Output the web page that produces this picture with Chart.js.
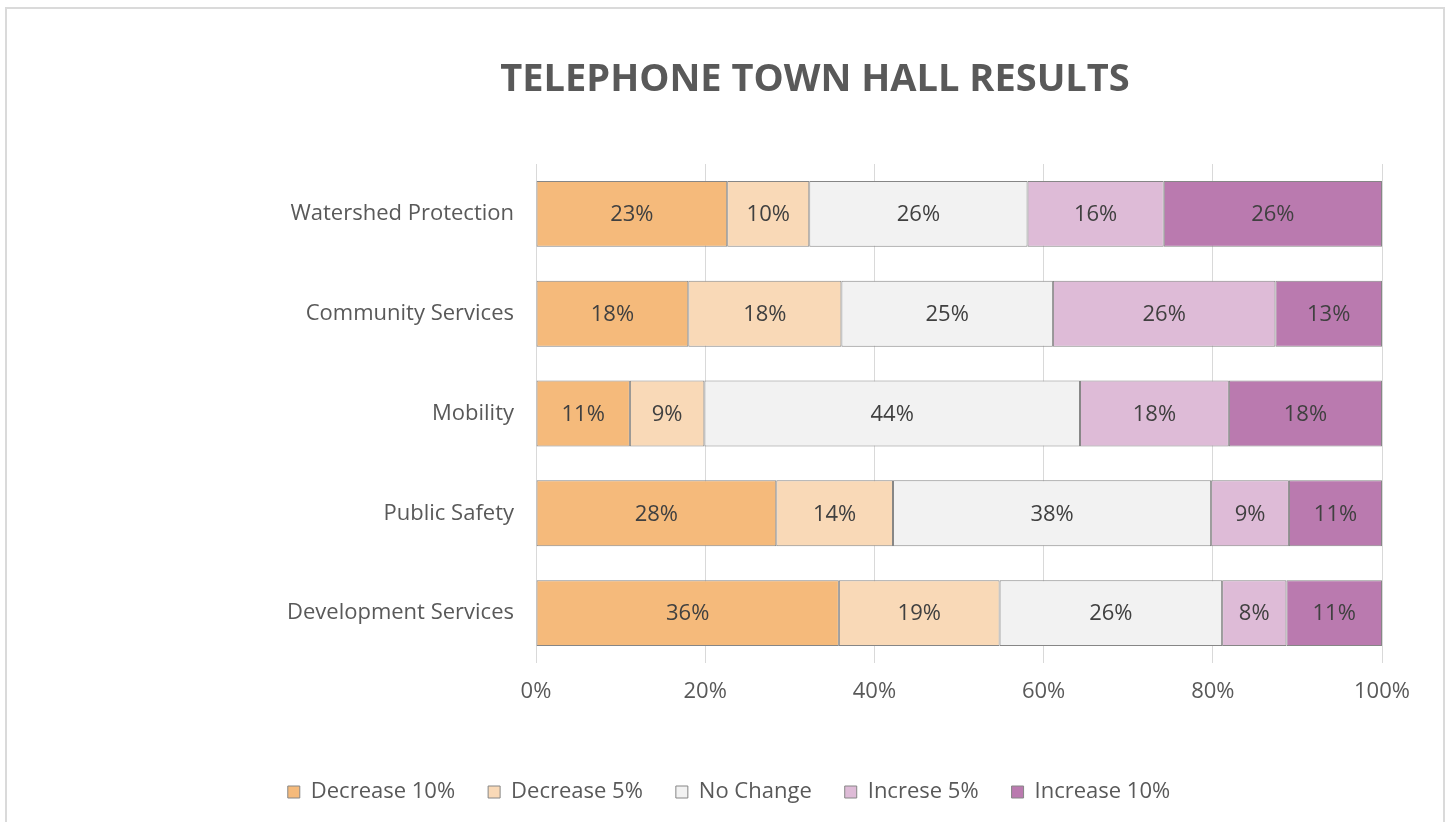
<!DOCTYPE html>
<html>
<head>
<meta charset="utf-8">
<title>Telephone Town Hall Results</title>
<script src="https://cdn.jsdelivr.net/npm/chart.js@4"></script>
<style>
    html, body { margin: 0; padding: 0; background: #fff; }
    .frame {
        position: absolute; left: 5px; top: 7px;
        width: 1436px; height: 840px;
        border: 2px solid #dadada;
    }
    .wrap { position: absolute; left: 0; top: 0; width: 1448px; height: 822px; }
</style>
</head>
<body>
<div class="frame"></div>
<div class="wrap"><canvas id="townHallChart" width="1448" height="822"></canvas></div>
<script>
const titulo = 'TELEPHONE TOWN HALL RESULTS';
const categorias = ['Watershed Protection', 'Community Services', 'Mobility', 'Public Safety', 'Development Services'];

const decrease10 = [22.6, 18.0, 11.1, 28.4, 35.8];
const decrease5 = [9.7, 18.1, 8.8, 13.8, 19.0];
const noChange = [25.8, 25.0, 44.4, 37.6, 26.3];
const increse5 = [16.1, 26.3, 17.6, 9.2, 7.6];
const increase10 = [25.8, 12.6, 18.1, 11.0, 11.3];

const xTicks = [0, 20, 40, 60, 80, 100];

const fonte = '"Open Sans", "DejaVu Sans", sans-serif';
const cinza = '#595959';

// titulo desenhado a parte (no original nao fica centrado no canvas)
const tituloPlugin = {
    id: 'tituloDeslocado',
    afterDraw(chart) {
        const ctx = chart.ctx;
        ctx.save();
        ctx.font = 'bold 38px ' + fonte;
        ctx.fillStyle = cinza;
        ctx.textAlign = 'center';
        ctx.textBaseline = 'middle';
        ctx.fillText(titulo, 815, 80);
        ctx.restore();
    }
};

// escreve o valor no meio de cada segmento
const rotulosPlugin = {
    id: 'rotulos',
    afterDatasetsDraw(chart) {
        const ctx = chart.ctx;
        ctx.save();
        ctx.font = '22px ' + fonte;
        ctx.fillStyle = '#404040';
        ctx.textAlign = 'center';
        ctx.textBaseline = 'middle';
        chart.data.datasets.forEach((ds, i) => {
            chart.getDatasetMeta(i).data.forEach((bar, j) => {
                const meio = (bar.x + bar.base) / 2;
                ctx.fillText(Math.round(ds.data[j]) + '%', meio, bar.y + 1);
            });
        });
        ctx.restore();
    }
};

function dataset(label, data, cor) {
    return {
        label: label,
        data: data,
        backgroundColor: cor,
        borderColor: '#868686',
        borderWidth: 1,
        borderSkipped: false,
        barPercentage: 0.66,
        categoryPercentage: 1.0
    };
}

const ctx = document.getElementById('townHallChart').getContext('2d');
new Chart(ctx, {
    type: 'bar',
    data: {
        labels: categorias,
        datasets: [
            dataset('Decrease 10%', decrease10, '#F5BA7B'),
            dataset('Decrease 5%', decrease5, '#F9D9B7'),
            dataset('No Change', noChange, '#F2F2F2'),
            dataset('Increse 5%', increse5, '#DEBBD7'),
            dataset('Increase 10%', increase10, '#BA7AAF')
        ]
    },
    options: {
        indexAxis: 'y',
        responsive: false,
        animation: false,
        layout: { padding: { left: 76, right: 66, top: 164, bottom: 9 } },
        plugins: {
            title: { display: false },
            legend: {
                position: 'bottom',
                labels: {
                    color: cinza,
                    font: { family: fonte, size: 22 },
                    boxWidth: 12,
                    boxHeight: 12,
                    padding: 33
                }
            },
            tooltip: { enabled: false }
        },
        scales: {
            x: {
                stacked: true,
                min: 0,
                max: 100,
                afterBuildTicks: scale => {
                    scale.ticks = xTicks.map(v => ({ value: v }));
                },
                afterFit: scale => { scale.height = 85; },
                grid: { color: '#d9d9d9', drawTicks: false },
                border: { display: false },
                ticks: {
                    color: cinza,
                    padding: 16,
                    font: { family: fonte, size: 22 },
                    callback: v => v + '%'
                }
            },
            y: {
                stacked: true,
                afterFit: scale => { scale.width = 536 - 76; },
                grid: { display: false, drawTicks: false },
                border: { display: false },
                ticks: {
                    color: cinza,
                    padding: 22,
                    font: { family: fonte, size: 22 }
                }
            }
        }
    },
    plugins: [rotulosPlugin, tituloPlugin]
});
</script>
</body>
</html>
